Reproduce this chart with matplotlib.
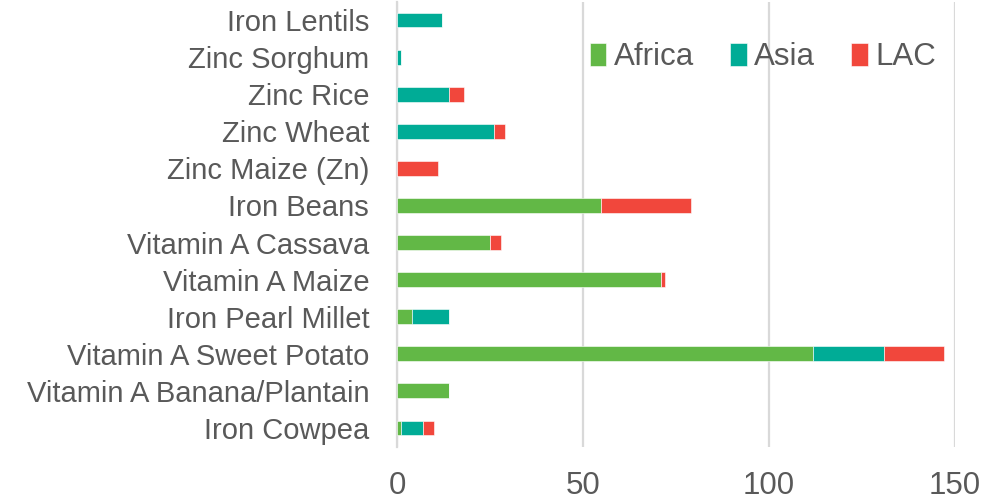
import matplotlib.pyplot as plt
import numpy as np

plt.rcParams['font.family'] = ['Liberation Sans', 'DejaVu Sans']

# Crops listed bottom to top, as they appear on the y axis
crops = ['Iron Cowpea', 'Vitamin A Banana/Plantain', 'Vitamin A Sweet Potato',
         'Iron Pearl Millet', 'Vitamin A Maize', 'Vitamin A Cassava',
         'Iron Beans', 'Zinc Maize (Zn)', 'Zinc Wheat', 'Zinc Rice',
         'Zinc Sorghum', 'Iron Lentils']
africa = [1, 14, 112, 4, 71, 25, 55, 0, 0, 0, 0, 0]
asia = [6, 0, 19, 10, 0, 0, 0, 0, 26, 14, 1, 12]
lac = [3, 0, 16, 0, 1, 3, 24, 11, 3, 4, 0, 0]

colors = {'Africa': '#62B846', 'Asia': '#00AC96', 'LAC': '#F1473C'}
text_col = '#595959'
grid_col = '#D9D9D9'

fig = plt.figure(figsize=(10.08, 5.0), dpi=100)
ax = fig.add_axes([397 / 1008, 1 - 446.5 / 500, (954.7 - 397) / 1008, 445 / 500])

y = np.arange(len(crops))
h = 0.4
left = np.zeros(len(crops))
for name, vals in [('Africa', africa), ('Asia', asia), ('LAC', lac)]:
    vals = np.array(vals, dtype=float)
    ax.barh(y, vals, height=h, left=left, color=colors[name], label=name,
            edgecolor='white', linewidth=0.4, zorder=3)
    left += vals

ax.set_xlim(0, 150)
ax.set_ylim(-0.5, len(crops) - 0.5)
ax.set_xticks([0, 50, 100, 150])
ax.set_yticks(y)
ax.set_yticklabels(crops)

ax.grid(axis='x', color=grid_col, linewidth=1.6, zorder=0)
for s in ['top', 'right', 'bottom']:
    ax.spines[s].set_visible(False)
ax.spines['left'].set_color(grid_col)
ax.spines['left'].set_linewidth(1.6)
ax.spines['left'].set_zorder(1)

ax.tick_params(axis='x', length=0, labelsize=22.5, labelcolor=text_col, pad=17.5)
ax.tick_params(axis='y', length=0, labelsize=21, labelcolor=text_col, pad=20)

leg = fig.legend(loc='center left', bbox_to_anchor=(590 / 1008, 1 - 57 / 500),
                 ncol=3, frameon=False, fontsize=22.5, handlelength=0.52,
                 handleheight=0.75, handletextpad=0.25, columnspacing=1.15,
                 borderaxespad=0, borderpad=0)
for t in leg.get_texts():
    t.set_color(text_col)

fig.savefig('out.png', dpi=100)
